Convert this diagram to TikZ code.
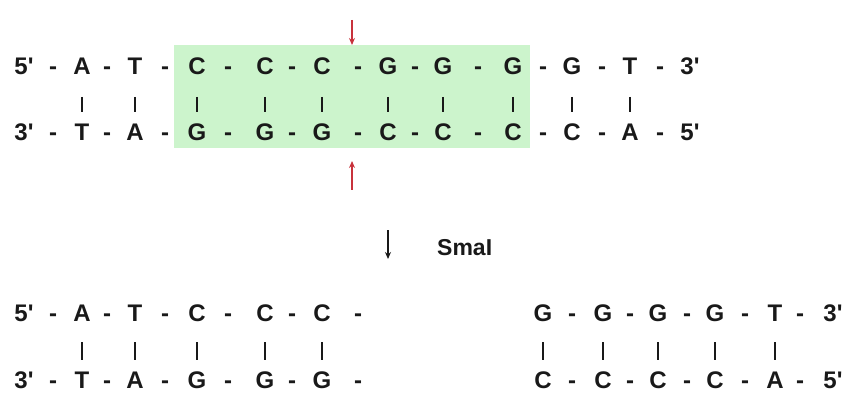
\documentclass[tikz,border=0pt]{standalone}
\usepackage{fontspec}
\setmainfont{Liberation Sans}
\usetikzlibrary{arrows.meta}
\definecolor{hl}{RGB}{204,244,204}
\definecolor{cut}{RGB}{200,50,60}
\definecolor{ink}{RGB}{25,25,25}
\newcommand{\pr}{\textquotesingle}
\begin{document}
\begin{tikzpicture}[x=1pt,y=-1pt,
  base/.style={font=\fontsize{24}{24}\selectfont\bfseries, text=ink, inner sep=0pt,
    text height=18pt, text depth=0pt, anchor=south},
  bond/.style={line width=1.7pt, draw=ink},
  cutarrow/.style={draw=cut, line width=1.3pt, -{Stealth[length=7pt,width=6pt]}},
  enzarrow/.style={draw=ink, line width=1.3pt, -{Stealth[length=7pt,width=6pt]}}]
\useasboundingbox (0,0) rectangle (850,395);
% highlighted recognition site
\fill[hl] (174,45) rectangle (530,148);

% ---------- uncut DNA ----------
\node[base] (u5) at (24,75) {5\pr};
\node[base] (u3) at (690,75) {3\pr};
\node[base] (l3) at (24,141) {3\pr};
\node[base] (l5) at (690,141) {5\pr};
\foreach \i/\x/\t/\b in {1/82/A/T,2/135/T/A,3/197/C/G,4/265/C/G,5/322/C/G,
                         6/388/G/C,7/443/G/C,8/513/G/C,9/572/G/C,10/630/T/A}{
  \node[base] (ut\i) at (\x,75) {\t};
  \node[base] (lb\i) at (\x,141) {\b};
  \draw[bond, shorten <=22pt, shorten >=11pt] (ut\i.south) -- (lb\i.north);
}
\foreach \i/\x in {1/53,2/107,3/165,4/228,5/292,6/358,7/415,8/478,9/543,10/602,11/660}{
  \node[base] (uh\i) at (\x,75) {-};
  \node[base] (lh\i) at (\x,141) {-};
}

% cleavage marks
\coordinate (c1s) at (352,20);
\coordinate (c1e) at (352,45);
\coordinate (c2s) at (352,190);
\coordinate (c2e) at (352,161);
\draw[cutarrow] (c1s) -- (c1e);
\draw[cutarrow] (c2s) -- (c2e);

% enzyme step
\coordinate (es) at (388,230);
\coordinate (ee) at (388,259);
\draw[enzarrow] (es) -- (ee);
\node[font=\fontsize{23}{23}\selectfont\bfseries, text=ink, inner sep=0pt, anchor=base west] (enz) at (437,255) {SmaI};

% ---------- left fragment ----------
\node[base] (a5) at (24,322) {5\pr};
\node[base] (b3) at (24,389) {3\pr};
\foreach \i/\x/\t/\b in {1/82/A/T,2/135/T/A,3/197/C/G,4/265/C/G,5/322/C/G}{
  \node[base] (at\i) at (\x,322) {\t};
  \node[base] (bb\i) at (\x,389) {\b};
  \draw[bond, shorten <=20pt, shorten >=11pt] (at\i.south) -- (bb\i.north);
}
\foreach \i/\x in {1/53,2/107,3/165,4/228,5/292,6/358}{
  \node[base] (ah\i) at (\x,322) {-};
  \node[base] (bh\i) at (\x,389) {-};
}

% ---------- right fragment ----------
\node[base] (r3) at (833,322) {3\pr};
\node[base] (s5) at (833,389) {5\pr};
\foreach \i/\x/\t/\b in {1/543/G/C,2/603/G/C,3/658/G/C,4/715/G/C,5/775/T/A}{
  \node[base] (rt\i) at (\x,322) {\t};
  \node[base] (sb\i) at (\x,389) {\b};
  \draw[bond, shorten <=20pt, shorten >=11pt] (rt\i.south) -- (sb\i.north);
}
\foreach \i/\x in {1/572,2/630,3/687,4/745,5/800}{
  \node[base] (rh\i) at (\x,322) {-};
  \node[base] (sh\i) at (\x,389) {-};
}
\end{tikzpicture}
\end{document}
